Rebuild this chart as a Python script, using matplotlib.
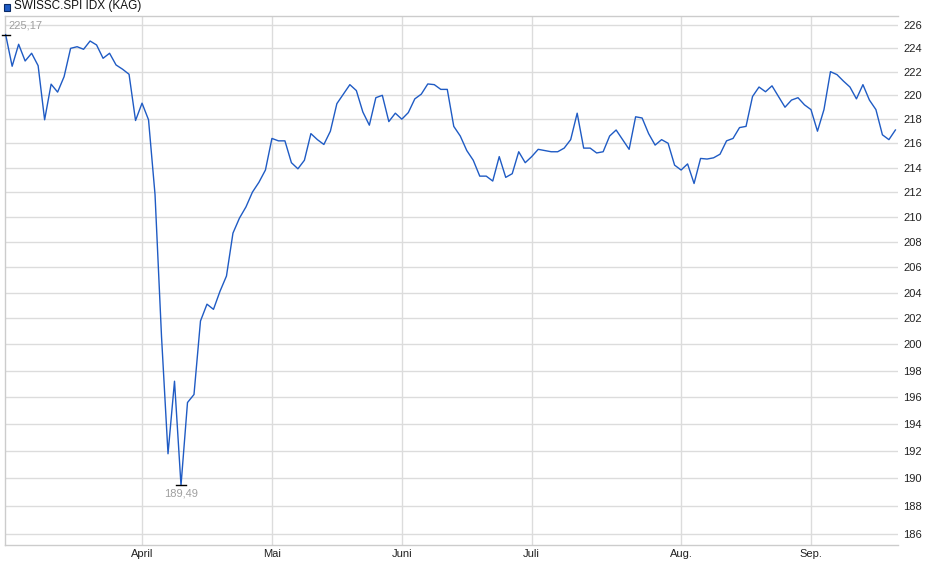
import matplotlib
matplotlib.use("Agg")
import matplotlib.pyplot as plt
import numpy as np
from matplotlib.ticker import FixedLocator, FixedFormatter, NullLocator
from matplotlib.patches import Rectangle

series_name = "SWISSC.SPI IDX (KAG)"

values = [
    225.17, 222.46, 224.34, 222.91, 223.57, 222.51, 217.95, 220.94, 220.27, 221.58,
    223.99, 224.13, 223.91, 224.62, 224.28, 223.14, 223.57, 222.57, 222.21, 221.78,
    217.89, 219.34, 217.95, 211.8, 200.6, 191.8, 197.2, 189.49, 195.6, 196.2,
    201.8, 203.1, 202.7, 204.1, 205.3, 208.7, 209.9, 210.8, 212.0, 212.8,
    213.8, 216.4, 216.2, 216.2, 214.4, 213.9, 214.6, 216.8, 216.3, 215.9,
    217.0, 219.3, 220.1, 220.9, 220.4, 218.6, 217.5, 219.8, 220.0, 217.8,
    218.5, 218.0, 218.55, 219.7, 220.1, 220.96, 220.9, 220.5, 220.5, 217.4,
    216.6, 215.4, 214.6, 213.3, 213.3, 212.9, 214.9, 213.2, 213.5, 215.3,
    214.4, 214.9, 215.5, 215.4, 215.3, 215.3, 215.6, 216.3, 218.5, 215.6,
    215.6, 215.2, 215.3, 216.6, 217.1, 216.3, 215.5, 218.2, 218.1, 216.8,
    215.85, 216.3, 216.0, 214.2, 213.8, 214.3, 212.7, 214.75, 214.7, 214.8,
    215.1, 216.2, 216.4, 217.3, 217.4, 219.9, 220.7, 220.3, 220.8, 219.9,
    219.0, 219.6, 219.8, 219.2, 218.8, 217.0, 218.8, 222.0, 221.75, 221.2,
    220.7, 219.7, 220.9, 219.6, 218.8, 216.7, 216.3, 217.1,
]

month_labels = ["April", "Mai", "Juni", "Juli", "Aug.", "Sep."]
month_start_index = [21, 41, 61, 81, 104, 124]

y_ticks = list(range(186, 227, 2))

LINE = "#1f5bc4"
GRID = "#dcdcdc"
FONT = ["Liberation Sans", "DejaVu Sans"]

plt.rcParams["font.family"] = FONT

fig = plt.figure(figsize=(9.4, 5.79), dpi=100)
ax = fig.add_axes([5 / 940, 34 / 579, 893 / 940, 529 / 579])

x = np.arange(len(values))
y = np.array(values)
ax.plot(x, y, color=LINE, lw=1.0, zorder=3)

ax.set_yscale("log")
ax.set_ylim(185.22, 226.78)
ax.set_xlim(-0.1, 137.4)

ax.yaxis.tick_right()
ax.yaxis.set_major_locator(FixedLocator(y_ticks))
ax.yaxis.set_major_formatter(FixedFormatter([str(t) for t in y_ticks]))
ax.yaxis.set_minor_locator(NullLocator())
ax.set_xticks(month_start_index)
ax.set_xticklabels(month_labels)

ax.tick_params(axis="both", labelsize=8, labelcolor="#222222", length=0)
ax.tick_params(axis="y", pad=4)
ax.tick_params(axis="x", pad=3)

ax.grid(True, color=GRID, lw=1.0, zorder=0)
ax.set_axisbelow(True)
for name, s in ax.spines.items():
    s.set_color("#cccccc")
    s.set_linewidth(1.0)
ax.spines["right"].set_visible(False)

# max / min annotations
imax = int(np.argmax(y))
imin = int(np.argmin(y))
ax.plot([imax - 0.5, imax + 0.6], [y[imax], y[imax]], color="black", lw=1.0, zorder=4, clip_on=False)
ax.annotate(f"{y[imax]:.2f}".replace(".", ","), (imax, y[imax]), xytext=(2, 3),
            textcoords="offset points", ha="left", va="bottom", fontsize=8, color="#a0a0a0")
ax.plot([imin - 0.7, imin + 0.7], [y[imin], y[imin]], color="black", lw=1.0, zorder=4)
ax.annotate(f"{y[imin]:.2f}".replace(".", ","), (imin, y[imin]), xytext=(0, -2),
            textcoords="offset points", ha="center", va="top", fontsize=8, color="#a0a0a0")

# legend
fig.patches.append(Rectangle((4 / 940, 1 - 11 / 579), 6 / 940, 7 / 579, transform=fig.transFigure,
                             facecolor=LINE, edgecolor="#0a2a66", lw=0.8))
fig.text(14 / 940, 1 - 6.5 / 579, series_name, fontsize=8.5, color="#111111", ha="left", va="center")

fig.savefig("out.png", dpi=100)
